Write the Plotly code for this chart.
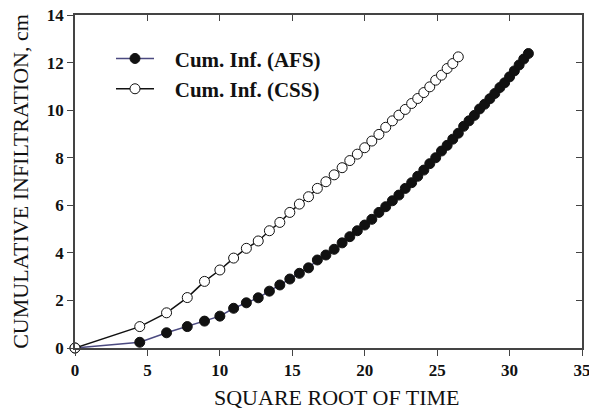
import plotly.graph_objects as go

# square root of elapsed time for each reading
sqrt_time = [0.00, 4.47, 6.32, 7.75, 8.94, 10.00, 10.95, 11.83, 12.65, 13.42,
             14.14, 14.83, 15.49, 16.12, 16.73, 17.32, 17.89, 18.44, 18.97, 19.49,
             20.00, 20.49, 20.98, 21.45, 21.91, 22.36, 22.80, 23.24, 23.66, 24.08,
             24.49, 24.90, 25.30, 25.69, 26.08, 26.46, 26.83, 27.20, 27.57, 27.93,
             28.28, 28.64, 28.98, 29.33, 29.66, 30.00, 30.33, 30.66, 30.98, 31.30]

# cumulative infiltration (cm), AFS
cum_afs = [0.00, 0.24, 0.64, 0.90, 1.13, 1.34, 1.67, 1.90, 2.11, 2.39,
           2.65, 2.90, 3.14, 3.37, 3.70, 3.91, 4.15, 4.42, 4.68, 4.93,
           5.17, 5.41, 5.70, 5.94, 6.19, 6.43, 6.71, 6.95, 7.22, 7.48,
           7.75, 8.00, 8.28, 8.52, 8.78, 9.03, 9.32, 9.55, 9.78, 10.05,
           10.25, 10.48, 10.70, 10.95, 11.15, 11.40, 11.65, 11.90, 12.15, 12.38]

# cumulative infiltration (cm), CSS
cum_css = [0.00, 0.90, 1.48, 2.12, 2.80, 3.28, 3.78, 4.19, 4.50, 4.93,
           5.28, 5.70, 6.05, 6.36, 6.71, 6.99, 7.28, 7.58, 7.88, 8.15,
           8.42, 8.70, 8.98, 9.28, 9.55, 9.79, 10.03, 10.28, 10.49, 10.74,
           10.98, 11.26, 11.47, 11.75, 11.96, 12.24]

x_ticks = [0, 5, 10, 15, 20, 25, 30, 35]
y_ticks = [0, 2, 4, 6, 8, 10, 12, 14]

serif = "Liberation Serif"
axis_col = "#444444"
text_col = "#111111"
pad = "\u00a0\u00a0\u00a0"  # gap between legend symbol and label

fig = go.Figure()

fig.add_trace(go.Scatter(
    x=sqrt_time[:len(cum_afs)], y=cum_afs, name=pad + "<b>Cum. Inf. (AFS)</b>",
    mode="lines+markers", legendgroup="afs", cliponaxis=False,
    line=dict(color="#4b4a80", width=1.5),
    marker=dict(symbol="circle", size=10, color=text_col,
                line=dict(color=text_col, width=1)),
))
fig.add_trace(go.Scatter(
    x=sqrt_time[:len(cum_css)], y=cum_css, name=pad + "<b>Cum. Inf. (CSS)</b>",
    mode="lines+markers", legendgroup="css", cliponaxis=False,
    line=dict(color=text_col, width=1.5),
    marker=dict(symbol="circle", size=10, color="white",
                line=dict(color=text_col, width=1)),
))

tick_font = dict(family=serif, size=17, color=text_col, weight="bold")
title_font = dict(family=serif, size=22, color=text_col)

fig.update_layout(
    width=589, height=414,
    margin=dict(l=75, r=7, t=15, b=66, autoexpand=False),
    paper_bgcolor="white", plot_bgcolor="white",
    showlegend=True,
    legend=dict(x=0.071, y=0.93, xanchor="left", yanchor="top",
                bgcolor="rgba(0,0,0,0)", borderwidth=0,
                font=dict(family=serif, size=21, color=text_col),
                traceorder="grouped", tracegroupgap=0, itemwidth=38),
    xaxis=dict(
        range=[0, 35], tickvals=x_ticks, ticktext=[str(v) for v in x_ticks],
        showgrid=False, zeroline=False, showline=True, mirror=True,
        linecolor=axis_col, linewidth=1.5, automargin=False,
        ticks="outside", ticklen=6, tickwidth=1.2, tickcolor=axis_col,
        tickfont=tick_font, ticklabeloverflow="allow",
    ),
    yaxis=dict(
        range=[0, 14], tickvals=y_ticks, ticktext=[str(v) for v in y_ticks],
        showgrid=False, zeroline=False, showline=True, mirror=True,
        linecolor=axis_col, linewidth=1.5, automargin=False,
        ticks="outside", ticklen=6, tickwidth=1.2, tickcolor=axis_col,
        tickfont=tick_font, ticklabeloverflow="allow",
        title=dict(text="CUMULATIVE INFILTRATION, cm", standoff=12,
                   font=title_font),
    ),
    # inward ticks along the top and right edges of the frame
    xaxis2=dict(
        overlaying="x", side="top", matches="x", range=[0, 35],
        tickvals=x_ticks, showticklabels=False, showgrid=False, zeroline=False,
        automargin=False,
        ticks="inside", ticklen=6, tickwidth=1.2, tickcolor=axis_col,
    ),
    yaxis2=dict(
        overlaying="y", side="right", matches="y", range=[0, 14],
        tickvals=y_ticks, showticklabels=False, showgrid=False, zeroline=False,
        automargin=False,
        ticks="inside", ticklen=6, tickwidth=1.2, tickcolor=axis_col,
    ),
    annotations=[dict(
        text="SQUARE ROOT OF TIME", xref="paper", yref="paper",
        x=0.517, y=-0.150, xanchor="center", yanchor="middle",
        showarrow=False, font=title_font,
    )],
)

# invisible trace so the top/right tick axes are drawn
fig.add_trace(go.Scatter(x=[0], y=[0], xaxis="x2", yaxis="y2", mode="markers",
                         marker=dict(opacity=0), showlegend=False,
                         hoverinfo="skip"))

fig.write_html("out.html")
